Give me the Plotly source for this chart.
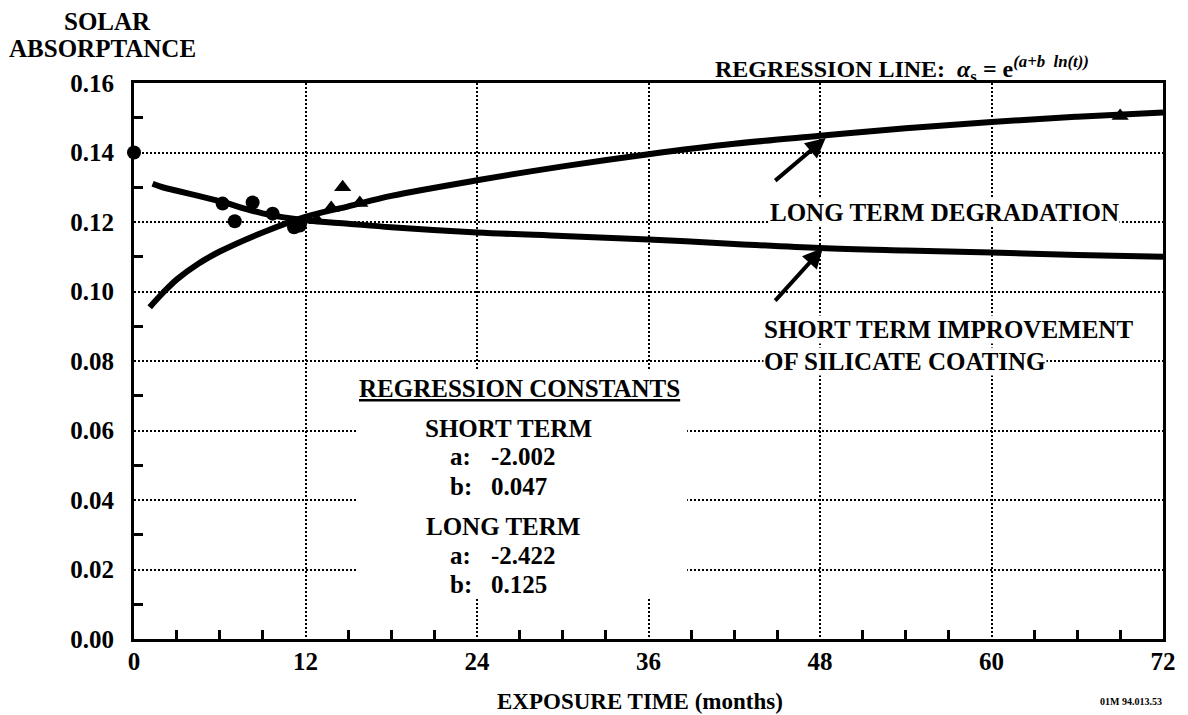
import plotly.graph_objects as go

FONT = "Liberation Serif, Times New Roman, serif"

# Regression curves
short_t = [1.3, 2, 3, 4.5, 6, 9, 12, 15, 18, 24, 30, 36, 42, 48, 54, 60, 66, 72]
short_a = [0.131, 0.130, 0.129, 0.1275, 0.126, 0.1225, 0.1205, 0.1195, 0.1185, 0.117,
           0.116, 0.115, 0.1137, 0.1125, 0.1118, 0.1112, 0.1105, 0.110]
long_t = [1.1, 2, 3, 4.5, 6, 9, 12, 15, 18, 24, 30, 36, 42, 48, 54, 60, 66, 72]
long_a = [0.0955, 0.0995, 0.1035, 0.108, 0.1115, 0.117, 0.1215, 0.1245, 0.1275, 0.132,
          0.136, 0.1395, 0.1425, 0.1448, 0.147, 0.1488, 0.1503, 0.1515]

# Measured points
circle_t = [0, 6.2, 7.05, 8.3, 9.7, 11.2, 11.6]
circle_a = [0.140, 0.1253, 0.1202, 0.1256, 0.1224, 0.1185, 0.119]
tri_t = [12.8, 13.8, 14.6, 15.8, 69.0]
tri_a = [0.1205, 0.124, 0.130, 0.1255, 0.1505]

# Regression constants
short_consts = ["-2.002", "0.047"]
long_consts = ["-2.422", "0.125"]

fig = go.Figure()
fig.add_trace(go.Scatter(x=short_t, y=short_a, mode="lines",
                         line=dict(color="black", width=6, shape="spline"),
                         showlegend=False, hoverinfo="skip"))
fig.add_trace(go.Scatter(x=long_t, y=long_a, mode="lines",
                         line=dict(color="black", width=6, shape="spline"),
                         showlegend=False, hoverinfo="skip"))
fig.add_trace(go.Scatter(x=circle_t, y=circle_a, mode="markers",
                         marker=dict(symbol="circle", size=14, color="black"),
                         cliponaxis=False, showlegend=False))
fig.add_trace(go.Scatter(x=tri_t, y=tri_a, mode="markers",
                         marker=dict(symbol="triangle-up", size=15, color="black"),
                         cliponaxis=False, showlegend=False))

# white area behind the regression constants block
fig.add_shape(type="rect", x0=15.6, x1=38.7, y0=0.0118, y1=0.0775,
              fillcolor="white", line=dict(width=0), layer="between")

ann = []
def txt(x, y, text, size=25, xanchor="center", xref="x", yref="y", bg=None, **kw):
    d = dict(x=x, y=y, text="<b>" + text + "</b>", showarrow=False, xref=xref, yref=yref,
             xanchor=xanchor, yanchor="middle",
             font=dict(family=FONT, size=size, color="black"), borderpad=0)
    if bg:
        d["bgcolor"] = bg
    d.update(kw)
    ann.append(d)

# axis titles
txt(-0.026, 1.11, "SOLAR", size=25, xref="paper", yref="paper")
txt(-0.031, 1.062, "ABSORPTANCE", size=25, xref="paper", yref="paper")
txt(0.4913, -0.112, "EXPOSURE TIME (months)", size=23, xref="paper", yref="paper")
txt(1.0, -0.112, "01M 94.013.53", size=10, xref="paper", yref="paper", xanchor="right")

# header formula
txt(0.564, 1.026,
    "REGRESSION LINE:  <i>α</i><sub>s</sub> = e<sup><i>(a+b  ln(t))</i></sup>",
    size=24, xref="paper", yref="paper", xanchor="left")

# regression constants block
txt(27.0, 0.0722, "<u>REGRESSION CONSTANTS</u>")
txt(26.2, 0.0607, "SHORT TERM")
txt(22.05, 0.0526, "a:", xanchor="left")
txt(24.9, 0.0526, short_consts[0], xanchor="left")
txt(22.05, 0.0440, "b:", xanchor="left")
txt(24.9, 0.0440, short_consts[1], xanchor="left")
txt(25.8, 0.0325, "LONG TERM")
txt(22.05, 0.0241, "a:", xanchor="left")
txt(24.9, 0.0241, long_consts[0], xanchor="left")
txt(22.05, 0.0158, "b:", xanchor="left")
txt(24.9, 0.0158, long_consts[1], xanchor="left")

# curve labels
txt(44.4, 0.1226, "LONG TERM DEGRADATION", xanchor="left", bg="white")
txt(44.0, 0.0890, "SHORT TERM IMPROVEMENT", xanchor="left", bg="white")
txt(44.0, 0.0798, "OF SILICATE COATING", xanchor="left", bg="white")

# arrows
for (x, y, ax, ay) in [(48.4, 0.1442, -52, 44), (48.2, 0.1125, -49, 54)]:
    ann.append(dict(x=x, y=y, ax=ax, ay=ay, xref="x", yref="y", showarrow=True,
                    arrowhead=2, arrowsize=1.0, arrowwidth=4, arrowcolor="black",
                    standoff=0, text=""))

tickfont = dict(family=FONT, size=25, color="black", weight="bold")

# page body has an 8px margin, so the figure is 8px smaller than the window
fig.update_layout(
    width=1180, height=707,
    margin=dict(l=126, r=22, t=75, b=76),
    paper_bgcolor="white", plot_bgcolor="white",
    font=dict(family=FONT, size=25, color="black"),
    annotations=ann,
    xaxis=dict(range=[0, 72], tickmode="linear", tick0=0, dtick=12,
               showgrid=True, gridcolor="black", gridwidth=2, griddash="2px,2px",
               showline=True, linecolor="black", linewidth=3, mirror=True,
               ticks="", zeroline=False, ticklabelstandoff=-2,
               tickfont=tickfont,
               minor=dict(tick0=0, dtick=3, ticks="inside", ticklen=9,
                          tickwidth=3, tickcolor="black", showgrid=False)),
    yaxis=dict(range=[0, 0.16], tickmode="linear", tick0=0, dtick=0.02,
               tickformat=".2f",
               showgrid=True, gridcolor="black", gridwidth=2, griddash="2px,2px",
               showline=True, linecolor="black", linewidth=3, mirror=True,
               ticks="", zeroline=False, ticklabelstandoff=12,
               tickfont=tickfont,
               minor=dict(tick0=0, dtick=0.01, ticks="inside", ticklen=9,
                          tickwidth=3, tickcolor="black", showgrid=False)),
)

fig.write_html("out.html")
